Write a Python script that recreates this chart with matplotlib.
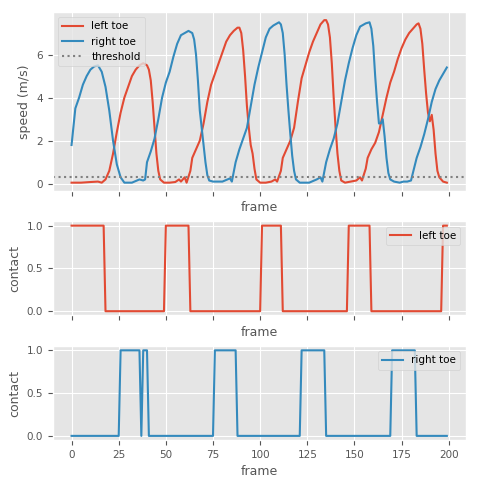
import numpy as np
import matplotlib
matplotlib.use("Agg")
import matplotlib.pyplot as plt
plt.style.use("ggplot")

left_pts = [(0,0.05),(5,0.05),(10,0.08),(14,0.1),(16,0.05),(18,0.2),(20,0.6),(22,1.4),(24,2.4),(26,3.3),
 (28,4.0),(30,4.5),(32,5.0),(34,5.3),(36,5.5),(38,5.6),(40,5.5),(41,5.3),(42,4.8),(43,3.8),(44,2.6),
 (45,1.4),(46,0.6),(47,0.2),(49,0.05),(52,0.05),(55,0.08),(57,0.2),(58,0.1),(60,0.3),(61,0.05),(63,0.6),
 (64,1.2),(66,1.6),(68,2.0),(70,2.8),(72,3.8),(74,4.6),(76,5.1),(78,5.6),(80,6.1),(82,6.6),(84,6.9),
 (86,7.1),(88,7.25),(89,7.25),(90,7.0),(91,6.2),(92,5.0),(93,3.6),(94,2.6),(95,1.8),(96,1.4),(97,0.7),
 (98,0.2),(100,0.05),(103,0.05),(106,0.1),(108,0.2),(109,0.1),(111,0.6),(112,1.2),(114,1.6),(116,2.0),
 (118,2.6),(120,3.8),(122,4.9),(124,5.5),(126,6.1),(128,6.6),(130,7.0),(132,7.4),(134,7.6),(135,7.6),
 (136,7.4),(137,6.8),(138,5.6),(139,4.0),(140,2.6),(141,1.4),(142,0.6),(143,0.15),(145,0.05),(148,0.1),
 (151,0.15),(153,0.3),(154,0.15),(156,0.7),(157,1.2),(159,1.6),(161,1.9),(163,2.4),(165,3.2),(167,4.0),
 (169,4.7),(171,5.2),(173,5.8),(175,6.3),(177,6.7),(179,7.0),(181,7.2),(183,7.4),(184,7.45),(185,7.2),
 (186,6.5),(187,5.3),(188,4.2),(189,3.3),(190,2.9),(191,3.2),(192,2.5),(193,1.4),(194,0.6),(195,0.3),
 (197,0.1),(199,0.05)]
right_pts = [(0,1.8),(2,3.5),(4,4.0),(6,4.6),(8,5.0),(10,5.3),(12,5.45),(14,5.5),(16,5.2),(18,4.5),
 (20,3.4),(22,2.0),(24,0.9),(26,0.3),(28,0.05),(32,0.05),(36,0.2),(38,0.15),(39,0.2),(40,1.0),(42,1.5),
 (44,2.1),(46,3.0),(48,4.0),(50,4.7),(52,5.2),(54,5.9),(56,6.5),(58,6.9),(60,7.0),(62,7.1),(64,7.0),
 (65,6.7),(66,6.0),(67,4.8),(68,3.4),(69,2.6),(70,1.8),(71,1.0),(72,0.4),(73,0.15),(75,0.1),(80,0.1),
 (84,0.25),(85,0.1),(87,1.0),(89,1.6),(91,2.1),(93,2.6),(95,3.6),(97,4.6),(99,5.4),(101,6.1),(103,6.8),
 (105,7.2),(107,7.35),(110,7.5),(111,7.4),(112,7.0),(113,6.0),(114,4.6),(115,3.4),(116,2.3),(117,1.3),
 (118,0.6),(119,0.2),(121,0.05),(126,0.05),(130,0.2),(132,0.3),(133,0.1),(135,1.0),(137,1.6),(139,2.1),
 (141,2.8),(143,3.8),(145,4.8),(147,5.6),(149,6.3),(151,6.9),(153,7.3),(156,7.45),(158,7.5),(159,7.2),
 (160,6.4),(161,5.0),(162,3.8),(163,2.8),(164,2.8),(165,3.0),(166,2.2),(167,1.2),(168,0.5),(169,0.2),
 (171,0.1),(174,0.05),(176,0.1),(178,0.1),(180,0.15),(181,0.5),(183,1.2),(185,1.7),(187,2.3),(189,3.0),
 (191,3.8),(193,4.4),(195,4.8),(197,5.1),(199,5.4)]
threshold = 0.3

left_runs = [(1,18),(0,32),(1,13),(0,38),(1,11),(0,35),(1,12),(0,38),(1,3)]
right_runs = [(0,26),(1,11),(0,1),(1,3),(0,35),(1,12),(0,34),(1,13),(0,35),(1,13),(0,17)]
left_contact = np.repeat([v for v,n in left_runs],[n for v,n in left_runs])
right_contact = np.repeat([v for v,n in right_runs],[n for v,n in right_runs])

red = "#E24A33"; blue = "#348ABD"
fig, axes = plt.subplots(3,1,figsize=(4.8,4.8),dpi=100,sharex=True,gridspec_kw={"height_ratios":[1.9,1,1]})
ax=axes[0]
lx, ly = zip(*left_pts); rx, ry = zip(*right_pts)
ax.plot(lx,ly,color=red,label="left toe")
ax.plot(rx,ry,color=blue,label="right toe")
ax.axhline(threshold,color="gray",ls=":",label="threshold")
ax.set_ylabel("speed (m/s)"); ax.set_xlabel("frame"); ax.legend(loc="upper left",fontsize=7.5)
ax=axes[1]
ax.plot(np.arange(len(left_contact)),left_contact,color=red,label="left toe")
ax.set_ylabel("contact"); ax.set_xlabel("frame"); ax.legend(loc="upper right",fontsize=7.5)
ax=axes[2]
ax.plot(np.arange(len(right_contact)),right_contact,color=blue,label="right toe")
ax.set_ylabel("contact"); ax.set_xlabel("frame"); ax.legend(loc="upper right",fontsize=7.5)
for a in axes:
    a.tick_params(labelsize=7.5)
    a.xaxis.label.set_size(9); a.yaxis.label.set_size(9)
    a.tick_params(axis="x",labelbottom=False)
axes[2].tick_params(axis="x",labelbottom=True)
axes[2].set_xticks([0,25,50,75,100,125,150,175,200])
fig.subplots_adjust(left=0.11,right=0.97,top=0.975,bottom=0.083,hspace=0.25)
fig.savefig("out.png")
